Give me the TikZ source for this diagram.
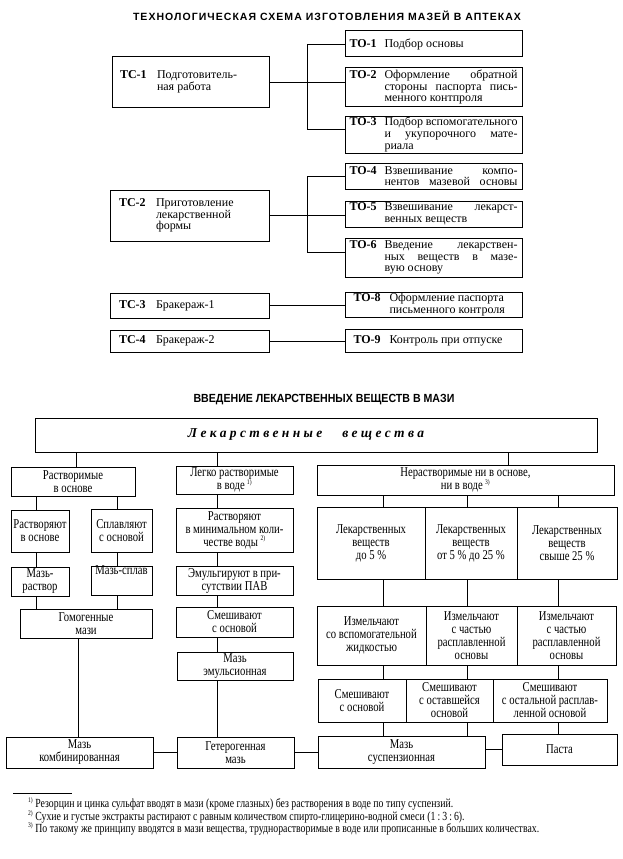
\documentclass[tikz,border=0pt]{standalone}
\usepackage{fontspec}
\setmainfont{Liberation Serif}
\newfontfamily\topf{Liberation Serif}
\newfontfamily\cond{Liberation Serif}[FakeStretch=0.79]
\newfontfamily\titlef{Liberation Sans}[LetterSpace=10]
\newfontfamily\titleb{Liberation Sans}[FakeStretch=0.9]
\newfontfamily\spacedf{Liberation Serif}[LetterSpace=25]
\newcommand\bx[7]{\node[#1,minimum width={(#5-#3)*1pt},minimum height={(#6-#4)*1pt}] (#2) at ({(#3+#5)/2},{(#4+#6)/2}) {#7};}
\newcommand\jl[1]{\makebox[\linewidth][s]{#1}}
\newcommand\tolab[2]{\makebox[35pt][l]{\bfseries #1}\parbox[t]{133pt}{#2}}
\newcommand\tolb[2]{\makebox[36pt][l]{\bfseries #1}\parbox[t]{124pt}{#2}}
\newcommand\tclab[2]{\makebox[37pt][l]{\bfseries #1}\parbox[t]{104pt}{#2}}
\newcommand\fn[1]{\textsuperscript{\scriptsize #1}}
\begin{document}
\begin{tikzpicture}[x=1pt,y=-1pt,
  tb/.style={draw,line width=1pt,inner sep=0pt,font={\topf\fontsize{12}{11.8}\selectfont}},
  bb/.style={draw,line width=1pt,inner sep=0pt,align=center,font={\cond\fontsize{13.5}{13}\selectfont}},
  ln/.style={line width=0.8pt}]
\useasboundingbox (0,0) rectangle (623,859);
% ---------- top scheme ----------
\node[font={\titlef\bfseries\fontsize{10.5}{12}\selectfont}] (t1) at (327,16) {ТЕХНОЛОГИЧЕСКАЯ СХЕМА ИЗГОТОВЛЕНИЯ МАЗЕЙ В АПТЕКАХ};
\bx{tb}{tc1}{112}{57}{269}{107}{\tclab{ТС-1}{Подготовитель-\\ная работа}}
\bx{tb}{to1}{345}{31}{522}{57}{\tolab{ТО-1}{Подбор основы}}
\bx{tb}{to2}{345}{68}{522}{106}{\tolab{ТО-2}{\jl{Оформление обратной}\\\jl{стороны паспорта пись-}\\менного контпроля}}
\bx{tb}{to3}{345}{116}{522}{153}{\tolab{ТО-3}{\jl{Подбор вспомогательного}\\\jl{и укупорочного мате-}\\риала}}
\bx{tb}{tc2}{110}{190}{269}{241}{\tclab{ТС-2}{Приготовление\\лекарственной\\формы}}
\bx{tb}{to4}{345}{163}{522}{189}{\tolab{ТО-4}{\jl{Взвешивание компо-}\\\jl{нентов мазевой основы}}}
\bx{tb}{to5}{345}{201}{522}{227}{\tolab{ТО-5}{\jl{Взвешивание лекарст-}\\венных веществ}}
\bx{tb}{to6}{345}{238}{522}{277}{\tolab{ТО-6}{\jl{Введение лекарствен-}\\\jl{ных веществ в мазе-}\\вую основу}}
\bx{tb}{tc3}{110}{293}{269}{318}{\tclab{ТС-3}{Бракераж-1}}
\bx{tb}{to8}{345}{292}{522}{317}{\tolb{ТО-8}{Оформление паспорта\\письменного контроля}}
\bx{tb}{tc4}{110}{330}{269}{352}{\tclab{ТС-4}{Бракераж-2}}
\bx{tb}{to9}{345}{329}{522}{352}{\tolb{ТО-9}{Контроль при отпуске}}
\coordinate (br) at (307,0);
\draw[ln] (tc1.east) -- (tc1.east -| to2.west);
\draw[ln] (to1.west) -- (to1.west -| br) -- ([yshift=5.5pt]to3.west -| br) -- ([yshift=5.5pt]to3.west);
\draw[ln] (tc2.east) -- (tc2.east -| to5.west);
\draw[ln] (to4.west) -- (to4.west -| br) -- ([yshift=5.5pt]to6.west -| br) -- ([yshift=5.5pt]to6.west);
\draw[ln] (tc3.east) -- (tc3.east -| to8.west);
\draw[ln] (tc4.east) -- (tc4.east -| to9.west);
% ---------- bottom scheme ----------
\node[font={\titleb\bfseries\fontsize{11.8}{13}\selectfont}] (t2) at (324,400) {ВВЕДЕНИЕ ЛЕКАРСТВЕННЫХ ВЕЩЕСТВ В МАЗИ};
\bx{bb}{main}{35}{418}{597}{452}{{\spacedf\bfseries\itshape\fontsize{13.5}{14}\selectfont Лекарственные\hspace{20pt}вещества\hspace{20pt}}}
\bx{bb}{rb}{11}{467}{135}{496}{Растворимые\\в основе}
\bx{bb}{lr}{176}{466}{293}{494}{Легко растворимые\\в воде\,\fn{1)}}
\bx{bb}{nr}{317}{465}{614}{495}{Нерастворимые ни в основе,\\ни в воде\,\fn{3)}}
\bx{bb}{rv}{11}{510}{69}{552}{Растворяют\\в основе}
\bx{bb}{sp}{91}{509}{152}{552}{Сплавляют\\с основой}
\bx{bb}{rm}{176}{508}{293}{552}{Растворяют\\в минимальном коли-\\честве воды \fn{2)}}
\bx{bb}{mr}{11}{567}{69}{596}{Мазь-\\раствор}
\bx{bb}{ms}{91}{567}{152}{595}{Мазь-сплав\\[8pt]}
\bx{bb}{em}{176}{566}{293}{595}{Эмульгируют в при-\\сутствии ПАВ}
\bx{bb}{gm}{20}{609}{152}{638}{Гомогенные\\мази}
\bx{bb}{sm}{176}{607}{293}{637}{Смешивают\\с основой}
\bx{bb}{me}{177}{652}{293}{680}{Мазь\\эмульсионная}
\bx{bb}{mk}{6}{737}{153}{768}{Мазь\\комбинированная}
\bx{bb}{gt}{177}{737}{294}{768}{Гетерогенная\\мазь}
\bx{bb}{su}{318}{736}{485}{768}{Мазь\\суспензионная}
\bx{bb}{pa}{502}{734}{617}{765}{Паста}
\bx{bb}{p1}{317}{507}{425}{579}{Лекарственных\\веществ\\до 5~\%}
\bx{bb}{p2}{425}{507}{517}{579}{Лекарственных\\веществ\\от 5~\% до 25~\%}
\bx{bb}{p3}{517}{507}{617}{579}{Лекарственных\\веществ\\свыше 25~\%}
\bx{bb}{i1}{317}{606}{426}{665}{Измельчают\\со вспомогательной\\жидкостью}
\bx{bb}{i2}{426}{606}{517}{665}{Измельчают\\с частью\\расплавленной\\основы}
\bx{bb}{i3}{517}{606}{616}{665}{Измельчают\\с частью\\расплавленной\\основы}
\bx{bb}{s1}{318}{679}{406}{722}{Смешивают\\с основой}
\bx{bb}{s2}{406}{679}{493}{722}{Смешивают\\с оставшейся\\основой}
\bx{bb}{s3}{493}{679}{607}{722}{Смешивают\\с остальной расплав-\\ленной основой}
\coordinate (cA) at (36,0);
\coordinate (cB) at (117.5,0);
\coordinate (cC) at (217,0);
\coordinate (cD) at (76,0);
\coordinate (cE) at (78,0);
\coordinate (cF) at (508,0);
\coordinate (c1) at (383,0);
\coordinate (c2) at (467,0);
\coordinate (c3) at (558,0);
\draw[ln] (main.south -| cD) -- (rb.north -| cD);
\draw[ln] (main.south -| cC) -- (lr.north -| cC);
\draw[ln] (main.south -| cF) -- (nr.north -| cF);
\draw[ln] (rb.south -| cA) -- (rv.north -| cA);
\draw[ln] (rb.south -| cB) -- (sp.north -| cB);
\draw[ln] (rv.south -| cA) -- (mr.north -| cA);
\draw[ln] (sp.south -| cB) -- (ms.north -| cB);
\draw[ln] (mr.south -| cA) -- (gm.north -| cA);
\draw[ln] (ms.south -| cB) -- (gm.north -| cB);
\draw[ln] (gm.south -| cE) -- (mk.north -| cE);
\draw[ln] (lr.south -| cC) -- (rm.north -| cC);
\draw[ln] (rm.south -| cC) -- (em.north -| cC);
\draw[ln] (em.south -| cC) -- (sm.north -| cC);
\draw[ln] (sm.south -| cC) -- (me.north -| cC);
\draw[ln] (me.south -| cC) -- (gt.north -| cC);
\draw[ln] (mk.east) -- (gt.west);
\draw[ln] (gt.east) -- (gt.east -| su.west);
\draw[ln] (su.east |- pa.west) -- (pa.west);
\draw[ln] (nr.south -| c1) -- (p1.north -| c1);
\draw[ln] (nr.south -| c2) -- (p2.north -| c2);
\draw[ln] (nr.south -| c3) -- (p3.north -| c3);
\draw[ln] (p1.south -| c1) -- (i1.north -| c1);
\draw[ln] (p2.south -| c2) -- (i2.north -| c2);
\draw[ln] (p3.south -| c3) -- (i3.north -| c3);
\draw[ln] (i1.south -| c1) -- (s1.north -| c1);
\draw[ln] (i2.south -| c2) -- (s2.north -| c2);
\draw[ln] (i3.south -| c3) -- (s3.north -| c3);
\draw[ln] (s1.south -| c1) -- (su.north -| c1);
\draw[ln] (s2.south -| c2) -- (su.north -| c2);
\draw[ln] (s3.south -| c3) -- (pa.north -| c3);
% ---------- footnotes ----------
\draw[line width=0.6pt] (13,793) -- (72,793);
\begin{scope}[every node/.style={anchor=base west,inner sep=0pt,font={\cond\fontsize{12.4}{12}\selectfont}}]
\node (f1) at (28,807) {\fn{1)}\,Резорцин и цинка сульфат вводят в мази (кроме глазных) без растворения в воде по типу суспензий.};
\node (f2) at (28,820) {\fn{2)}\,Сухие и густые экстракты растирают с равным количеством спирто-глицерино-водной смеси (1\,:\,3\,:\,6).};
\node (f3) at (28,832) {\fn{3)}\,По такому же принципу вводятся в мази вещества, труднорастворимые в воде или прописанные в больших количествах.};
\end{scope}
\end{tikzpicture}
\end{document}
